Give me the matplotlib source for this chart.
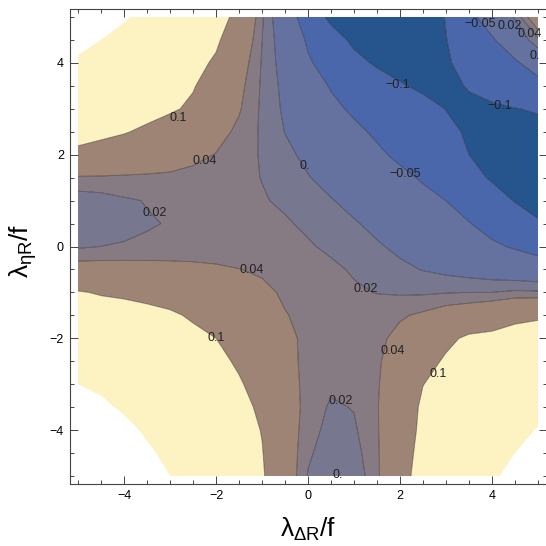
import numpy as np
import matplotlib
matplotlib.use("Agg")
import matplotlib.pyplot as plt
from matplotlib.ticker import MultipleLocator, FixedLocator

plt.rcParams['font.family'] = ['Liberation Sans', 'DejaVu Sans']
plt.rcParams['mathtext.fontset'] = 'custom'
plt.rcParams['mathtext.rm'] = 'Liberation Sans'
plt.rcParams['mathtext.it'] = 'Liberation Sans'

# grid (x and y from -5 to 5, step 0.5)
x_vals = [-5.0, -4.5, -4.0, -3.5, -3.0, -2.5, -2.0, -1.5, -1.0, -0.5, 0.0,
          0.5, 1.0, 1.5, 2.0, 2.5, 3.0, 3.5, 4.0, 4.5, 5.0]
y_vals = [5.0, 4.5, 4.0, 3.5, 3.0, 2.5, 2.0, 1.5, 1.0, 0.5, 0.0,
          -0.5, -1.0, -1.5, -2.0, -2.5, -3.0, -3.5, -4.0, -4.5, -5.0]

# one row per y value, top (y=5) to bottom (y=-5)
z_rows = [
    [0.25, 0.228, 0.206, 0.184, 0.162, 0.14, 0.118, 0.0875, 0.0229, -0.027, -0.0715,
     -0.11, -0.125, -0.132, -0.13, -0.12, -0.0985, -0.061, -0.029, 0.0024, 0.07],
    [0.22, 0.2, 0.1815, 0.163, 0.144, 0.126, 0.107, 0.07, 0.0205, -0.0177, -0.0553,
     -0.0819, -0.108, -0.12, -0.125, -0.12, -0.101, -0.0778, -0.0546, -0.0233, 0.016],
    [0.19, 0.175, 0.16, 0.144, 0.128, 0.113, 0.094, 0.056, 0.0183, -0.012, -0.0453,
     -0.0679, -0.0888, -0.105, -0.112, -0.112, -0.104, -0.0878, -0.0718, -0.0558, -0.03],
    [0.166, 0.153, 0.141, 0.128, 0.116, 0.103, 0.0774, 0.0477, 0.0171, -0.0071, -0.031,
     -0.0529, -0.0676, -0.0824, -0.0971, -0.106, -0.107, -0.098, -0.0855, -0.073, -0.064],
    [0.143, 0.134, 0.125, 0.116, 0.106, 0.0925, 0.0675, 0.0425, 0.0163, -0.0041, -0.0228,
     -0.0414, -0.056, -0.0672, -0.0783, -0.0895, -0.1007, -0.106, -0.106, -0.101, -0.097],
    [0.119, 0.111, 0.103, 0.0916, 0.0777, 0.0637, 0.0498, 0.0346, 0.0168, -0.0006, -0.0145,
     -0.0285, -0.0425, -0.0557, -0.068, -0.0803, -0.0926, -0.104, -0.108, -0.11, -0.11],
    [0.088, 0.08, 0.072, 0.0636, 0.0555, 0.0473, 0.039, 0.0287, 0.0181, 0.006, -0.0063,
     -0.0188, -0.0313, -0.0438, -0.0571, -0.0714, -0.0857, -0.1, -0.108, -0.113, -0.115],
    [0.037, 0.037, 0.036, 0.0355, 0.035, 0.032, 0.029, 0.025, 0.0195, 0.0104, 0.0013,
     -0.0093, -0.02, -0.0308, -0.0416, -0.0538, -0.0709, -0.088, -0.104, -0.11, -0.113],
    [0.008, 0.011, 0.0172, 0.021, 0.023, 0.024, 0.024, 0.023, 0.0215, 0.017, 0.0088,
     0.0015, -0.0084, -0.0188, -0.0293, -0.0397, -0.0502, -0.0675, -0.0846, -0.1017, -0.107],
    [0.007, 0.0095, 0.0135, 0.0182, 0.0212, 0.0235, 0.025, 0.025, 0.024, 0.022, 0.0166,
     0.0095, 0.0024, -0.0069, -0.0173, -0.0277, -0.0381, -0.0485, -0.0644, -0.0812, -0.098],
    [0.017, 0.0201, 0.0218, 0.0235, 0.025, 0.026, 0.027, 0.027, 0.0265, 0.025, 0.022,
     0.0163, 0.0096, 0.0029, -0.0054, -0.015, -0.0246, -0.0342, -0.0438, -0.054, -0.066],
    [0.053, 0.0525, 0.052, 0.0505, 0.049, 0.047, 0.044, 0.0405, 0.037, 0.033, 0.029,
     0.024, 0.0177, 0.0114, 0.0051, -0.001, -0.0062, -0.0114, -0.0166, -0.0218, -0.027],
    [0.103, 0.0965, 0.0935, 0.089, 0.0816, 0.072, 0.063, 0.054, 0.045, 0.037, 0.032,
     0.027, 0.023, 0.0192, 0.0175, 0.017, 0.0188, 0.02, 0.0201, 0.0237, 0.0229],
    [0.127, 0.121, 0.116, 0.111, 0.106, 0.095, 0.0815, 0.067, 0.055, 0.041, 0.035,
     0.031, 0.03, 0.032, 0.037, 0.0444, 0.0556, 0.063, 0.073, 0.09, 0.095],
    [0.151, 0.144, 0.135, 0.127, 0.119, 0.11, 0.1, 0.08, 0.065, 0.0458, 0.035,
     0.03, 0.03, 0.034, 0.0476, 0.0685, 0.0895, 0.108, 0.112, 0.116, 0.118],
    [0.176, 0.168, 0.154, 0.1435, 0.132, 0.122, 0.113, 0.093, 0.075, 0.048, 0.034,
     0.028, 0.029, 0.036, 0.0567, 0.0828, 0.106, 0.115, 0.125, 0.134, 0.14],
    [0.2, 0.19, 0.173, 0.16, 0.146, 0.136, 0.125, 0.105, 0.08, 0.052, 0.033,
     0.024, 0.026, 0.037, 0.0656, 0.0993, 0.113, 0.125, 0.138, 0.15, 0.161],
    [0.226, 0.21, 0.193, 0.178, 0.163, 0.148, 0.134, 0.117, 0.0897, 0.0552, 0.0323,
     0.017, 0.021, 0.0378, 0.0727, 0.107, 0.12, 0.134, 0.148, 0.162, 0.183],
    [0.25, 0.235, 0.214, 0.1925, 0.173, 0.155, 0.1366, 0.118, 0.0984, 0.0578, 0.0283,
     0.013, 0.017, 0.0369, 0.0774, 0.109, 0.128, 0.146, 0.165, 0.184, 0.203],
    [0.27, 0.25, 0.23, 0.2085, 0.187, 0.166, 0.145, 0.123, 0.102, 0.0597, 0.0235,
     0.008, 0.012, 0.0356, 0.081, 0.113, 0.135, 0.157, 0.178, 0.2, 0.222],
    [0.29, 0.27, 0.247, 0.224, 0.2, 0.176, 0.153, 0.129, 0.105, 0.0616, 0.0185,
     0.002, 0.006, 0.0348, 0.0845, 0.117, 0.141, 0.167, 0.192, 0.216, 0.24],
]

# contour levels; above the top level the plot is left blank
fill_levels = [-0.2, -0.1, -0.05, 0.0, 0.02, 0.04, 0.1, 0.2]
line_levels = [-0.1, -0.05, 0.0, 0.02, 0.04, 0.1]
fill_colors = ['#26548c', '#4a67ab', '#6572a0', '#77778f', '#867a83', '#9e8474', '#fdf2c2']

# contour labels as they sit in the picture
label_text = ['0.1', '0.04', '0.02', '0.', '\u22120.1', '\u22120.1', '\u22120.05',
              '\u22120.05', '0.02', '0.04', '0.', '0.04', '0.02', '0.1', '0.04',
              '0.1', '0.02', '0.']
label_x = [-2.83, -2.24, -3.33, -0.07, 1.96, 4.17, 2.11, 3.74, 4.39, 4.83, 4.93,
           -1.22, 1.26, -2.0, 1.85, 2.83, 0.7, 0.65]
label_y = [2.81, 1.87, 0.72, 1.76, 3.51, 3.07, 1.57, 4.84, 4.81, 4.64, 4.16,
           -0.52, -0.92, -2.0, -2.27, -2.77, -3.36, -4.97]

Z = np.array(z_rows)

fig = plt.figure(figsize=(5.46, 5.46), dpi=100)
ax = fig.add_axes([69.5 / 546, 62 / 546, 477.5 / 546, 475 / 546])

ax.contourf(x_vals, y_vals, Z, levels=fill_levels, colors=fill_colors,
            antialiased=True)
ax.contour(x_vals, y_vals, Z, levels=line_levels, colors='black',
           linewidths=0.6, alpha=0.45, linestyles='solid',
           negative_linestyles='solid')

for t, lx, ly in zip(label_text, label_x, label_y):
    ax.text(lx, ly, t, fontsize=9, ha='center', va='center', color='#222222')

ax.set_xlim(-5.185, 5.196)
ax.set_ylim(-5.174, 5.174)

ax.xaxis.set_major_locator(FixedLocator([-4, -2, 0, 2, 4]))
ax.yaxis.set_major_locator(FixedLocator([-4, -2, 0, 2, 4]))
ax.xaxis.set_minor_locator(MultipleLocator(0.5))
ax.yaxis.set_minor_locator(MultipleLocator(0.5))
ax.tick_params(which='both', direction='in', top=True, right=True,
               color='#444444', width=0.7, labelsize=9, pad=4)
ax.tick_params(which='major', length=5.5)
ax.tick_params(which='minor', length=3)
for sp in ax.spines.values():
    sp.set_color('#444444')
    sp.set_linewidth(0.8)

ax.set_xlabel(r'$\lambda_{\Delta\mathrm{R}}/\mathrm{f}$', fontsize=19, va='center')
ax.set_ylabel(r'$\lambda_{\eta\mathrm{R}}/\mathrm{f}$', fontsize=19, va='center')
ax.xaxis.set_label_coords(0.5, -0.095)
ax.yaxis.set_label_coords(-0.097, 0.49)

fig.savefig('out.png', dpi=100)
